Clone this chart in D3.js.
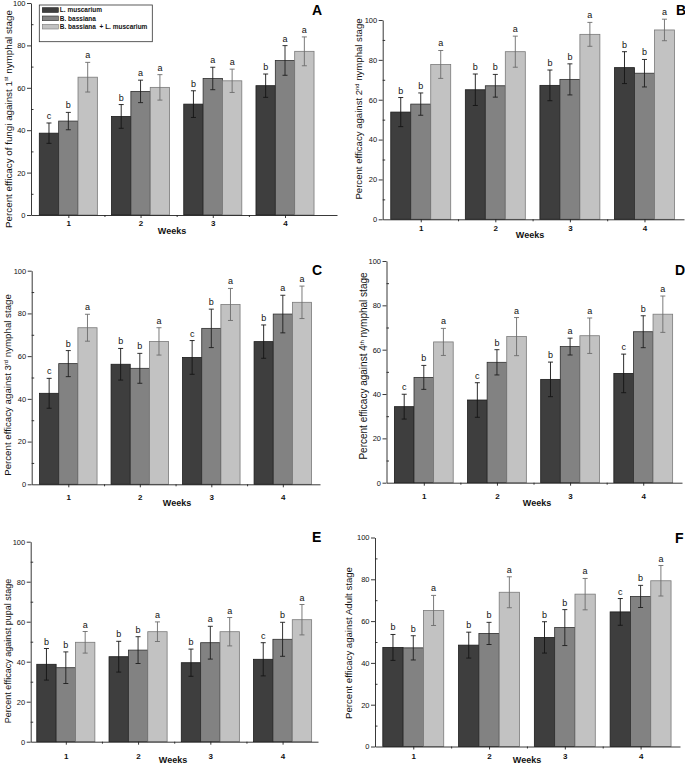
<!DOCTYPE html>
<html>
<head>
<meta charset="utf-8">
<script src="https://cdn.jsdelivr.net/npm/d3@7"></script>
<style>
  html, body { margin: 0; padding: 0; background: #fff; }
  svg { display: block; font-family: "Liberation Sans", Arial, sans-serif; }
</style>
</head>
<body>
<svg id="chart" width="685" height="765"></svg>
<script>
// ---- data (mean % efficacy, error, significance letter) ----
var weeks = [1, 2, 3, 4];
var seriesNames = ["L. muscarium", "B. bassiana", "B. bassiana  + L. muscarium"];
var yTicks = [0, 20, 40, 60, 80, 100];
var yMinorTicks = [10, 30, 50, 70, 90];

// rows: L. muscarium, B. bassiana, combination ; columns: weeks 1-4
var meansA = [[38.6, 46.5, 52.3, 61.0], [44.3, 58.3, 64.4, 72.9], [65.0, 60.2, 63.3, 77.2]];
var errsA = [[4.8, 5.6, 6.3, 5.5], [4.1, 5.3, 5.3, 7.0], [7.0, 6.0, 5.5, 6.8]];
var lettersA = [["c", "b", "b", "b"], ["b", "a", "a", "a"], ["a", "a", "a", "a"]];

var meansB = [[53.8, 65.0, 67.2, 76.1], [57.8, 67.0, 70.2, 73.3], [77.7, 84.1, 92.8, 95.0]];
var errsB = [[7.3, 7.9, 7.7, 8.0], [5.6, 5.7, 7.8, 6.9], [7.0, 7.8, 6.0, 5.4]];
var lettersB = [["b", "b", "b", "b"], ["b", "b", "b", "b"], ["a", "a", "a", "a"]];

var meansC = [[42.6, 56.2, 59.4, 66.8], [56.5, 54.3, 73.0, 79.7], [73.3, 66.9, 84.2, 85.2]];
var errsC = [[7.0, 7.4, 7.9, 7.8], [6.1, 7.0, 9.0, 8.8], [6.3, 6.4, 7.5, 7.6]];
var lettersC = [["c", "b", "c", "b"], ["b", "b", "b", "a"], ["a", "a", "a", "a"]];

var meansD = [[34.3, 37.3, 46.6, 49.3], [47.5, 54.3, 61.4, 68.1], [63.5, 65.9, 66.3, 76.0]];
var errsD = [[5.6, 7.8, 7.8, 8.7], [5.4, 5.7, 3.8, 7.2], [6.1, 8.6, 8.0, 8.2]];
var lettersD = [["c", "c", "b", "c"], ["b", "b", "a", "b"], ["a", "a", "a", "a"]];

var meansE = [[38.7, 42.5, 39.5, 41.2], [37.0, 45.8, 49.5, 51.2], [49.7, 55.0, 55.0, 61.0]];
var errsE = [[7.9, 7.7, 6.8, 8.3], [7.9, 6.7, 8.2, 8.5], [5.4, 4.9, 7.1, 7.6]];
var lettersE = [["b", "b", "b", "c"], ["b", "b", "a", "b"], ["a", "a", "a", "a"]];

var meansF = [[47.4, 48.5, 52.2, 64.4], [47.2, 54.1, 56.9, 71.8], [65.1, 73.8, 72.9, 79.3]];
var errsF = [[6.2, 6.2, 7.5, 6.4], [5.8, 5.3, 8.6, 5.3], [7.2, 7.4, 7.5, 7.3]];
var lettersF = [["b", "b", "b", "c"], ["b", "b", "b", "b"], ["a", "a", "a", "a"]];

// ---- styles ----
var seriesFill = ["#3e3e3e", "#828282", "#c2c2c2"];
var seriesStroke = ["#1c1c1c", "#2e2e2e", "#7a7a7a"];
var errColour = ["#151515", "#1e1e1e", "#6c6c6c"];

// ---- panel layout (pixel frame of each plot) ----
var panels = [
  { id: "A", means: meansA, errs: errsA, letters: lettersA, legend: true,
    title: ["Percent efficacy of fungi against 1", "st", " nymphal stage"], titleSize: 9.8,
    titleX: 11.5, titleY: 119, x0: 31, x1: 337, wLo: 0.483, wHi: 4.72, yTop: 3, yBot: 215,
    tickY: 226, weeksX: 172, weeksY: 234, labelX: 312, labelY: 15 },
  { id: "B", means: meansB, errs: errsB, letters: lettersB,
    title: ["Percent efficacy against 2", "nd", " nymphal stage"], titleSize: 9.6,
    titleX: 362, titleY: 109, x0: 382.7, x1: 684, wLo: 0.49, wHi: 4.53, yTop: 20, yBot: 219.3,
    tickY: 231, weeksX: 530, weeksY: 238, labelX: 676, labelY: 15 },
  { id: "C", means: meansC, errs: errsC, letters: lettersC,
    title: ["Percent efficacy against 3", "rd", " nymphal stage"], titleSize: 9.7,
    titleX: 11, titleY: 385, x0: 31.7, x1: 320, wLo: 0.488, wHi: 4.52, yTop: 270.7, yBot: 484.3,
    tickY: 500, weeksX: 177, weeksY: 506, labelX: 312, labelY: 275 },
  { id: "D", means: meansD, errs: errsD, letters: lettersD,
    title: ["Percent efficacy against 4", "th", " nymphal stage"], titleSize: 10,
    titleX: 367, titleY: 366, x0: 386.5, x1: 682, wLo: 0.49, wHi: 4.53, yTop: 261, yBot: 482.7,
    tickY: 499, weeksX: 537, weeksY: 506, labelX: 675, labelY: 275 },
  { id: "E", means: meansE, errs: errsE, letters: lettersE,
    title: ["Percent efficacy against pupal stage"], titleSize: 9.0,
    titleX: 10.5, titleY: 651, x0: 30.7, x1: 318, wLo: 0.514, wHi: 4.49, yTop: 541.7, yBot: 741.7,
    tickY: 759, weeksX: 173, weeksY: 763, labelX: 312, labelY: 542 },
  { id: "F", means: meansF, errs: errsF, letters: lettersF,
    title: ["Percent efficacy against Adult stage"], titleSize: 9.6,
    titleX: 351.5, titleY: 643, x0: 375, x1: 680, wLo: 0.495, wHi: 4.52, yTop: 537.5, yBot: 746.5,
    tickY: 759, weeksX: 527, weeksY: 763, labelX: 675, labelY: 543 }
];

var svg = d3.select("#chart");

/**
 * Draws one lettered panel: bars, error bars, letters, axes and titles.
 * @param  {Object} p panel layout + data
 * @return {void}
 */
function drawPanel(p) {
  "use strict";
  var g = svg.append("g").attr("class", "panel-" + p.id);
  var x = d3.scaleLinear().domain([p.wLo, p.wHi]).range([p.x0, p.x1]);
  var y = d3.scaleLinear().domain([0, 100]).range([p.yBot, p.yTop]);
  var bw = (x(2) - x(1)) * 0.268;

  seriesNames.forEach(function (name, s) {
    var rows = weeks.map(function (w, i) {
      return { week: w, mean: p.means[s][i], err: p.errs[s][i], letter: p.letters[s][i] };
    });
    var sg = g.append("g");
    var cx = function (d) { return x(d.week) + (s - 1) * bw; };

    sg.selectAll("rect").data(rows).enter().append("rect")
      .attr("x", function (d) { return cx(d) - bw / 2; })
      .attr("y", function (d) { return y(d.mean); })
      .attr("width", bw)
      .attr("height", function (d) { return y(0) - y(d.mean); })
      .attr("fill", seriesFill[s])
      .attr("stroke", seriesStroke[s])
      .attr("stroke-width", 0.8);

    var eb = sg.selectAll("g.err").data(rows).enter().append("g")
      .attr("class", "err")
      .attr("stroke", errColour[s])
      .attr("stroke-width", 0.9);
    eb.append("line")
      .attr("x1", cx).attr("x2", cx)
      .attr("y1", function (d) { return y(d.mean + d.err); })
      .attr("y2", function (d) { return y(d.mean - d.err); });
    [1, -1].forEach(function (sign) {
      eb.append("line")
        .attr("x1", function (d) { return cx(d) - 2.5; })
        .attr("x2", function (d) { return cx(d) + 2.5; })
        .attr("y1", function (d) { return y(d.mean + sign * d.err); })
        .attr("y2", function (d) { return y(d.mean + sign * d.err); });
    });

    sg.selectAll("text").data(rows).enter().append("text")
      .attr("x", cx)
      .attr("y", function (d) { return y(d.mean + d.err) - 4; })
      .attr("text-anchor", "middle")
      .attr("font-size", 9)
      .attr("fill", "#111")
      .text(function (d) { return d.letter; });
  });

  // y axis
  var ya = g.append("g").attr("transform", "translate(" + p.x0 + ",0)")
    .call(d3.axisLeft(y).tickValues(yTicks).tickSizeInner(4).tickSizeOuter(0).tickPadding(1.5));
  ya.selectAll("text").attr("font-size", 7.5).attr("fill", "#111").attr("font-family", null);
  g.append("g").attr("transform", "translate(" + p.x0 + ",0)")
    .call(d3.axisLeft(y).tickValues(yMinorTicks).tickSizeInner(-2.5).tickSizeOuter(0).tickFormat(""))
    .select(".domain").remove();

  // x axis
  var xa = g.append("g").attr("transform", "translate(0," + p.yBot + ")")
    .call(d3.axisBottom(x).tickValues(weeks).tickSizeInner(3).tickSizeOuter(0).tickFormat(d3.format("d")));
  xa.selectAll("text")
    .attr("y", p.tickY - p.yBot).attr("dy", null)
    .attr("font-size", 8).attr("font-weight", "bold").attr("fill", "#111").attr("font-family", null);
  g.append("g").attr("transform", "translate(0," + p.yBot + ")")
    .call(d3.axisBottom(x).tickValues([1.5, 2.5, 3.5]).tickSizeInner(2).tickSizeOuter(0).tickFormat(""))
    .select(".domain").remove();
  g.selectAll(".domain, .tick line").attr("stroke", "#222").attr("stroke-width", 0.9);

  g.append("text")
    .attr("x", p.weeksX).attr("y", p.weeksY)
    .attr("text-anchor", "middle")
    .attr("font-size", 9).attr("font-weight", "bold").attr("fill", "#111")
    .text("Weeks");

  // rotated y title, with superscript ordinal
  var t = g.append("text")
    .attr("transform", "translate(" + p.titleX + "," + p.titleY + ") rotate(-90)")
    .attr("text-anchor", "middle")
    .attr("font-size", p.titleSize)
    .attr("fill", "#111");
  t.append("tspan").text(p.title[0]);
  if (p.title.length > 1) {
    t.append("tspan").attr("font-size", p.titleSize * 0.6).attr("dy", -3.5).text(p.title[1]);
    t.append("tspan").attr("dy", 3.5).text(p.title[2]);
  }

  g.append("text")
    .attr("x", p.labelX).attr("y", p.labelY)
    .attr("font-size", 14).attr("font-weight", "bold").attr("fill", "#000")
    .text(p.id);

  if (p.legend) {
    drawLegend(g);
  }
}

/**
 * Legend box that sits in the top-left of panel A.
 * @param  {Object} g d3 selection
 * @return {void}
 */
function drawLegend(g) {
  "use strict";
  var lg = g.append("g").attr("transform", "translate(39.3,5)");
  lg.append("rect")
    .attr("width", 113).attr("height", 36.7)
    .attr("fill", "#fff").attr("stroke", "#333").attr("stroke-width", 0.8);
  var items = lg.selectAll("g.item").data(seriesNames).enter().append("g")
    .attr("class", "item")
    .attr("transform", function (d, i) { return "translate(3," + (2.7 + i * 8.3) + ")"; });
  items.append("rect")
    .attr("width", 16).attr("height", 4.7)
    .attr("fill", function (d, i) { return seriesFill[i]; })
    .attr("stroke", function (d, i) { return seriesStroke[i]; })
    .attr("stroke-width", 0.6);
  items.append("text")
    .attr("x", 17.5).attr("y", 4.5)
    .attr("font-size", 6.5).attr("font-weight", "bold").attr("fill", "#111")
    .attr("xml:space", "preserve")
    .style("white-space", "pre")
    .text(function (d) { return d; });
}

panels.forEach(drawPanel);
</script>
</body>
</html>
